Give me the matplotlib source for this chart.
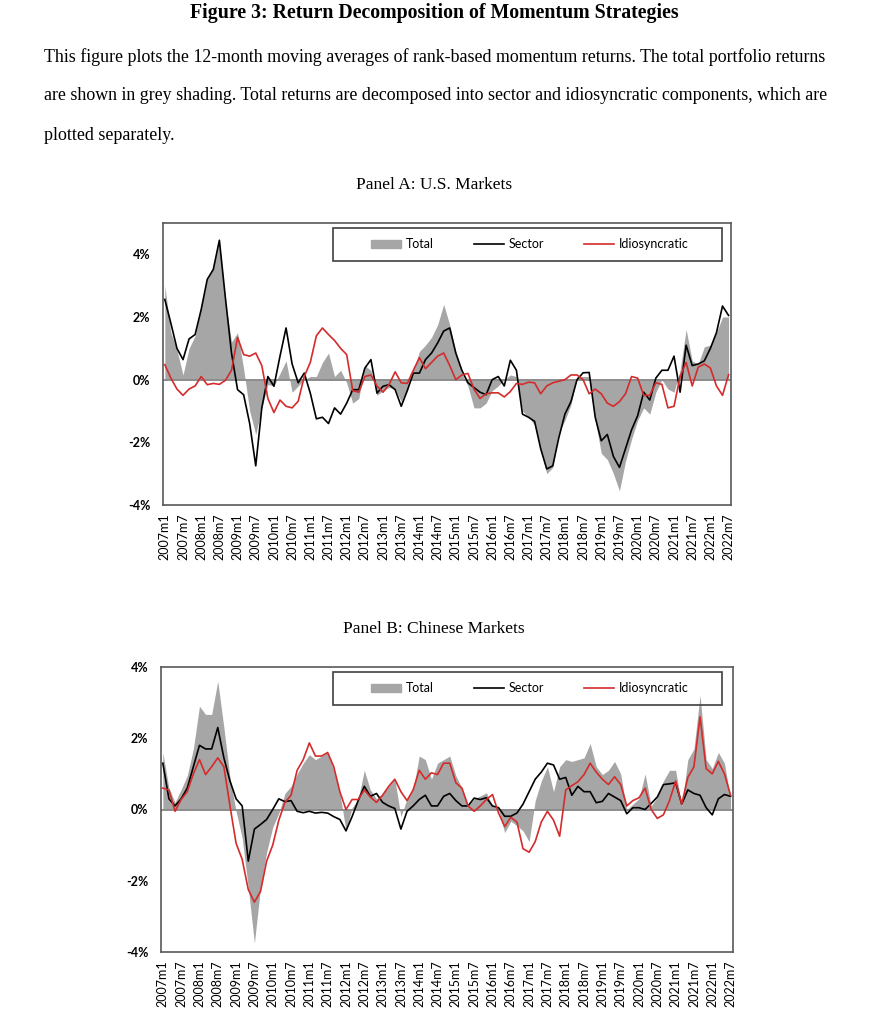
import numpy as np
import matplotlib.pyplot as plt
from matplotlib.patches import Patch, Rectangle
from matplotlib.lines import Line2D

# samples every two months, 2007m1 = 0 ... 2022m7 = 186
months = np.arange(0, 187, 2)
tick_pos = np.arange(0, 187, 6)
tick_labels = [f"{y}m{m}" for y in range(2007, 2023) for m in (1, 7)]

# Panel A: U.S. markets (% per month, 12-month moving average)
us_total = [3.0, 1.5, 0.95, 0.15, 1.0, 1.4, 2.3, 3.2, 3.6, 4.4,
            2.5, 1.2, 1.5, 0.35, -1.0, -1.75, -0.9, -0.15, -0.2, 0.2,
            0.6, -0.4, -0.2, 0.0, 0.1, 0.1, 0.55, 0.85, 0.1, 0.3,
            -0.1, -0.75, -0.6, 0.45, 0.3, -0.5, -0.35, -0.25, -0.3, -0.7,
            -0.3, 0.3, 0.9, 1.1, 1.35, 1.75, 2.4, 1.75, 0.9, 0.2,
            -0.2, -0.9, -0.9, -0.75, -0.35, -0.2, 0.0, 0.15, 0.1, -1.0,
            -1.2, -1.45, -2.2, -3.0, -2.8, -1.7, -1.3, -0.8, 0.1, 0.1,
            0.1, -1.3, -2.35, -2.55, -3.0, -3.55, -2.6, -1.9, -1.3, -0.9,
            -1.1, -0.4, 0.0, -0.3, -0.4, 0.3, 1.6, 0.6, 0.5, 1.05,
            1.1, 1.5, 2.0, 2.0]
us_sector = [2.56, 1.8, 1.0, 0.64, 1.3, 1.44, 2.24, 3.2, 3.52, 4.45,
             2.6, 0.85, -0.32, -0.48, -1.4, -2.75, -0.9, 0.1, -0.21, 0.75,
             1.65, 0.5, -0.1, 0.21, -0.43, -1.25, -1.2, -1.4, -0.9, -1.1,
             -0.75, -0.32, -0.32, 0.37, 0.64, -0.43, -0.21, -0.16, -0.32, -0.85,
             -0.35, 0.21, 0.21, 0.64, 0.85, 1.17, 1.55, 1.65, 0.85, 0.3,
             -0.1, -0.25, -0.4, -0.48, 0.0, 0.1, -0.2, 0.62, 0.3, -1.1,
             -1.2, -1.33, -2.2, -2.85, -2.75, -1.85, -1.1, -0.7, 0.0, 0.22,
             0.23, -1.2, -1.95, -1.75, -2.45, -2.8, -2.2, -1.6, -1.15, -0.4,
             -0.65, 0.05, 0.3, 0.3, 0.75, -0.4, 1.1, 0.45, 0.5, 0.6,
             1.0, 1.5, 2.35, 2.05]
us_idio = [0.48, 0.05, -0.3, -0.5, -0.3, -0.2, 0.1, -0.16, -0.12, -0.15,
           -0.02, 0.3, 1.35, 0.8, 0.75, 0.85, 0.45, -0.6, -1.05, -0.65,
           -0.85, -0.9, -0.69, 0.1, 0.55, 1.4, 1.65, 1.44, 1.25, 1.0,
           0.8, -0.35, -0.4, 0.1, 0.15, -0.2, -0.4, -0.15, 0.25, -0.1,
           -0.12, 0.3, 0.7, 0.35, 0.55, 0.75, 0.85, 0.45, 0.0, 0.15,
           0.2, -0.3, -0.6, -0.45, -0.42, -0.42, -0.55, -0.38, -0.12, -0.15,
           -0.08, -0.1, -0.45, -0.2, -0.1, -0.05, 0.0, 0.15, 0.15, 0.0,
           -0.45, -0.3, -0.45, -0.75, -0.85, -0.7, -0.45, 0.1, 0.05, -0.5,
           -0.5, -0.1, -0.15, -0.9, -0.85, 0.1, 0.55, -0.2, 0.4, 0.5,
           0.37, -0.2, -0.5, 0.16]

# Panel B: Chinese markets
cn_total = [1.6, 0.6, 0.2, 0.56, 0.95, 1.7, 2.9, 2.67, 2.67, 3.6,
            2.3, 0.9, -0.05, -0.8, -2.2, -3.75, -2.2, -1.2, -0.5, -0.1,
            0.45, 0.65, 1.0, 1.3, 1.54, 1.4, 1.5, 1.6, 1.1, 0.47,
            -0.6, 0.05, 0.28, 1.1, 0.55, 0.3, 0.45, 0.65, 0.85, -0.2,
            0.3, 0.55, 1.5, 1.4, 0.85, 1.3, 1.4, 1.5, 0.95, 0.6,
            0.1, 0.3, 0.38, 0.47, 0.1, 0.0, -0.65, -0.33, -0.45, -0.6,
            -0.9, 0.25, 0.8, 1.2, 0.5, 1.2, 1.4, 1.35, 1.4, 1.45,
            1.85, 1.2, 0.98, 1.1, 1.35, 1.0, 0.0, 0.15, 0.3, 1.0,
            0.1, 0.35, 0.8, 1.1, 1.1, 0.1, 1.4, 1.7, 3.2, 1.4,
            1.15, 1.6, 1.3, 0.3]
cn_sector = [1.3, 0.3, 0.1, 0.3, 0.6, 1.2, 1.8, 1.7, 1.7, 2.3,
             1.45, 0.8, 0.3, 0.1, -1.45, -0.55, -0.42, -0.28, 0.0, 0.3,
             0.22, 0.25, -0.05, -0.09, -0.05, -0.1, -0.08, -0.1, -0.2, -0.28,
             -0.6, -0.2, 0.25, 0.65, 0.37, 0.45, 0.2, 0.1, 0.03, -0.55,
             -0.05, 0.1, 0.28, 0.4, 0.1, 0.1, 0.37, 0.45, 0.25, 0.1,
             0.1, 0.32, 0.28, 0.33, 0.1, 0.05, -0.19, -0.19, -0.1, 0.15,
             0.5, 0.85, 1.05, 1.3, 1.25, 0.85, 0.9, 0.4, 0.65, 0.5,
             0.5, 0.19, 0.23, 0.45, 0.35, 0.25, -0.12, 0.05, 0.05, 0.0,
             0.17, 0.35, 0.7, 0.72, 0.75, 0.15, 0.55, 0.45, 0.4, 0.05,
             -0.15, 0.3, 0.42, 0.37]
cn_idio = [0.6, 0.55, -0.05, 0.28, 0.5, 1.0, 1.4, 0.98, 1.2, 1.45,
           1.2, 0.1, -0.95, -1.4, -2.25, -2.6, -2.3, -1.45, -1.0, -0.3,
           0.2, 0.4, 1.1, 1.4, 1.87, 1.5, 1.5, 1.6, 1.2, 0.5,
           0.0, 0.28, 0.28, 0.55, 0.35, 0.2, 0.4, 0.65, 0.85, 0.5,
           0.25, 0.55, 1.1, 0.85, 1.03, 0.98, 1.3, 1.3, 0.75, 0.6,
           0.1, -0.05, 0.1, 0.28, 0.42, -0.1, -0.48, -0.22, -0.35, -1.1,
           -1.2, -0.9, -0.35, -0.05, -0.3, -0.75, 0.55, 0.67, 0.78, 0.98,
           1.3, 1.05, 0.85, 0.7, 0.92, 0.7, 0.1, 0.25, 0.33, 0.6,
           0.0, -0.25, -0.15, 0.25, 0.8, 0.15, 0.9, 1.2, 2.6, 1.15,
           1.0, 1.35, 1.0, 0.4]

W, H = 873, 1024
grey = '#a6a6a6'
red = '#d42b2b'
serif = 'Liberation Serif'
sans = 'Lato'

fig = plt.figure(figsize=(W / 100, H / 100), dpi=100)


def fy(py):
    return 1 - py / H


fig.text(434 / W, fy(13), "Figure 3: Return Decomposition of Momentum Strategies",
         ha='center', va='center', family=serif, weight='bold', fontsize=14.3)
para = ["This figure plots the 12-month moving averages of rank-based momentum returns. The total portfolio returns",
        "are shown in grey shading. Total returns are decomposed into sector and idiosyncratic components, which are",
        "plotted separately."]
for line, py in zip(para, [57, 96, 135]):
    fig.text(44 / W, fy(py), line, ha='left', va='center', family=serif, fontsize=12.85)
fig.text(434 / W, fy(185), "Panel A: U.S. Markets", ha='center', va='center', family=serif, fontsize=12.5)
fig.text(434 / W, fy(629), "Panel B: Chinese Markets", ha='center', va='center', family=serif, fontsize=12.5)


def panel(left, right, top, bottom, total, sector, idio, ymax):
    ax = fig.add_axes([left / W, 1 - bottom / H, (right - left) / W, (bottom - top) / H])
    ax.fill_between(months, total, 0, color=grey, lw=0, zorder=1)
    ax.axhline(0, color='#8c8c8c', lw=1.4, zorder=2)
    ax.plot(months, sector, color='black', lw=1.2, zorder=3)
    ax.plot(months, idio, color=red, lw=1.2, zorder=4)
    ax.set_xlim(-0.6, 186.8)
    ax.set_ylim(-4, ymax)
    yt = [-4, -2, 0, 2, 4]
    ax.set_yticks(yt)
    ax.set_yticklabels([f"{t}%" for t in yt], fontweight='bold', family=sans, fontsize=9)
    ax.set_xticks(tick_pos)
    ax.set_xticklabels(tick_labels, rotation=90, family=sans, fontsize=9)
    ax.tick_params(axis='y', length=0, pad=9)
    ax.tick_params(axis='x', length=0, pad=6)
    for s in ax.spines.values():
        s.set_color('#595959')
        s.set_linewidth(1.2)

    # legend box
    x0 = (333 - left) / (right - left)
    x1 = (722 - left) / (right - left)
    ytop = (bottom - (top + 5)) / (bottom - top)
    ybot = (bottom - (top + 38)) / (bottom - top)
    ax.add_patch(Rectangle((x0, ybot), x1 - x0, ytop - ybot, transform=ax.transAxes,
                           fill=False, ec='#404040', lw=1.2, zorder=5))
    handles = [Patch(color=grey), Line2D([], [], color='black', lw=1.2),
               Line2D([], [], color=red, lw=1.2)]
    ax.legend(handles, ['Total', 'Sector', 'Idiosyncratic'], ncol=3, frameon=False,
              loc='center', bbox_to_anchor=((530 - left) / (right - left), (ytop + ybot) / 2),
              prop={'family': sans, 'size': 9}, handlelength=2.4, handleheight=0.55,
              handletextpad=0.4, columnspacing=3.2, borderpad=0, borderaxespad=0)
    return ax


panel(163, 731, 223, 505, us_total, us_sector, us_idio, 5)
panel(161, 733, 667, 952, cn_total, cn_sector, cn_idio, 4)

fig.savefig('out.png', dpi=100)
